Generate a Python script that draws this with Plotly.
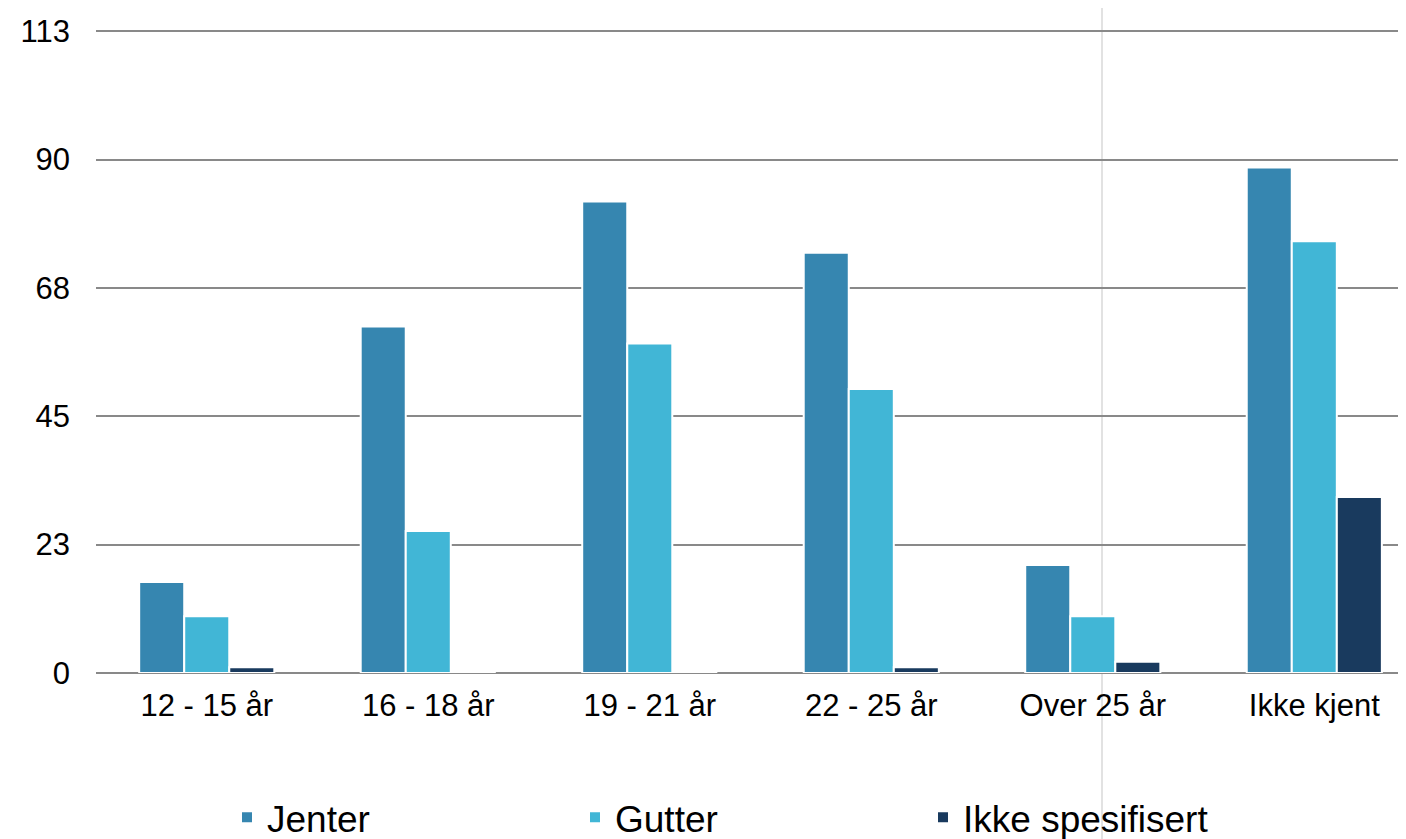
import plotly.graph_objects as go

categories = ["12 - 15 år", "16 - 18 år", "19 - 21 år", "22 - 25 år", "Over 25 år", "Ikke kjent"]
jenter = [16, 61, 83, 74, 19, 89]
gutter = [10, 25, 58, 50, 10, 76]
ikke_spesifisert = [1, 0, 0, 1, 2, 31]

ytick_vals = [0, 22.6, 45.2, 67.8, 90.4, 113]
ytick_text = ["0", "23", "45", "68", "90", "113"]

series = [
    ("Jenter", jenter, "#3686B0"),
    ("Gutter", gutter, "#41B6D6"),
    ("Ikke spesifisert", ikke_spesifisert, "#193A5E"),
]

fig = go.Figure()
for name, vals, col in series:
    fig.add_trace(go.Bar(
        name=name, x=categories, y=vals,
        marker=dict(color=col, line=dict(color="white", width=2)),
    ))

# page body has an 8px offset
W, H = 1398, 831
ml, mr, mt, mb = 88, 0, 22, 166
pw = W - ml - mr
ph = H - mt - mb

vline_px = 1102 - 8
fig.add_shape(type="line", xref="paper", yref="paper",
              x0=(vline_px - ml) / pw, x1=(vline_px - ml) / pw,
              y0=-(H - mt - ph) / ph, y1=(mt + ph) / ph,
              line=dict(color="#d9d9d9", width=1.5), layer="below")

fig.update_layout(
    width=W, height=H,
    margin=dict(l=ml, r=mr, t=mt, b=mb, pad=0, autoexpand=False),
    paper_bgcolor="white", plot_bgcolor="rgba(0,0,0,0)",
    barmode="group", bargap=0.39, bargroupgap=0,
    font=dict(family="Liberation Sans, Arial, sans-serif", color="black"),
    xaxis=dict(
        range=[-0.5, 5.414], showgrid=False, zeroline=False,
        tickfont=dict(size=31), ticks="", showline=False,
        ticklabelstandoff=11, automargin=False,
    ),
    yaxis=dict(
        range=[0, 113.2], tickvals=ytick_vals, ticktext=ytick_text,
        tickfont=dict(size=31), showgrid=True, gridcolor="#898989", gridwidth=2,
        zeroline=True, zerolinecolor="#898989", zerolinewidth=2,
        ticks="", showline=False, ticklabelstandoff=25, automargin=False,
    ),
    legend=dict(
        orientation="h", x=0.1, xanchor="left", y=-0.225, yanchor="middle",
        font=dict(size=37), entrywidth=303, entrywidthmode="pixels",
        bgcolor="rgba(0,0,0,0)", itemclick=False,
    ),
    showlegend=True,
)

fig.write_html("out.html")
